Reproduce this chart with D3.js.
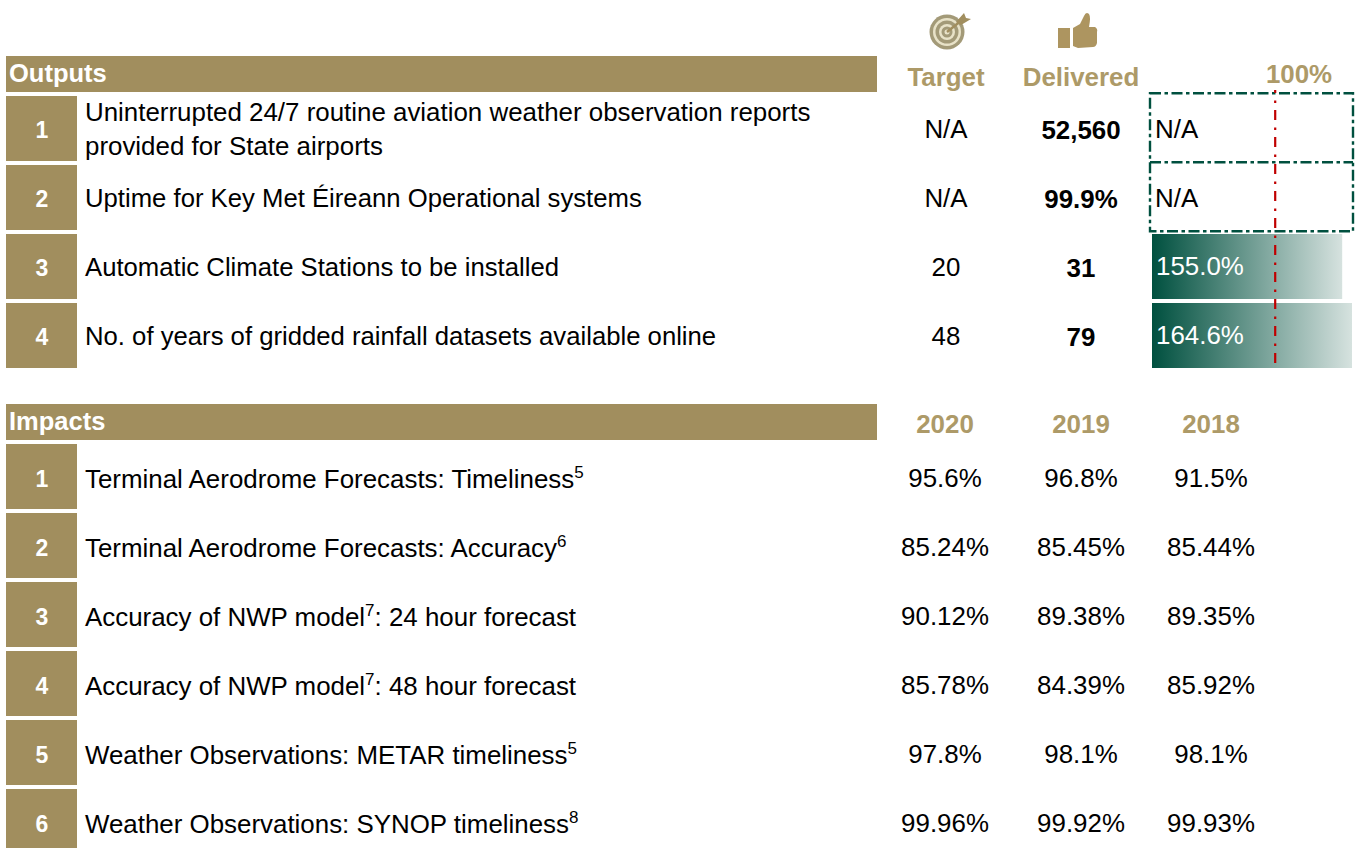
<!DOCTYPE html>
<html>
<head>
<meta charset="utf-8">
<script src="https://cdn.jsdelivr.net/npm/d3@7"></script>
<style>
  html, body { margin: 0; padding: 0; background: #fff; }
  svg { display: block; }
  text { font-family: "Liberation Sans", Arial, sans-serif; }
</style>
</head>
<body>
<svg id="chart" width="1363" height="848"></svg>
<script>
// outputs table
const outputLabels = [
  ['Uninterrupted 24/7 routine aviation weather observation reports', 'provided for State airports'],
  ['Uptime for Key Met Éireann Operational systems'],
  ['Automatic Climate Stations to be installed'],
  ['No. of years of gridded rainfall datasets available online']
];
const outputTargets = ['N/A', 'N/A', '20', '48'];
const outputDelivered = ['52,560', '99.9%', '31', '79'];
const outputPercent = [null, null, 155.0, 164.6];

// impacts table
const impactLabels = [
  ['Terminal Aerodrome Forecasts: Timeliness', '5', ''],
  ['Terminal Aerodrome Forecasts: Accuracy', '6', ''],
  ['Accuracy of NWP model', '7', ': 24 hour forecast'],
  ['Accuracy of NWP model', '7', ': 48 hour forecast'],
  ['Weather Observations: METAR timeliness', '5', ''],
  ['Weather Observations: SYNOP timeliness', '8', '']
];
const impactYears = ['2020', '2019', '2018'];
const impacts2020 = ['95.6%', '85.24%', '90.12%', '85.78%', '97.8%', '99.96%'];
const impacts2019 = ['96.8%', '85.45%', '89.38%', '84.39%', '98.1%', '99.92%'];
const impacts2018 = ['91.5%', '85.44%', '89.35%', '85.92%', '98.1%', '99.93%'];

const gold = '#a18e5e';
const goldText = '#ad9a68';
const green = '#00503f';
const fontSize = 25.9;

const svg = d3.select('#chart');

const defs = svg.append('defs');
const grad = defs.append('linearGradient').attr('id', 'barFade');
grad.append('stop').attr('offset', '0%').attr('stop-color', green);
grad.append('stop').attr('offset', '100%').attr('stop-color', '#d6e2df');
defs.append('filter').attr('id', 'soft')
  .append('feGaussianBlur').attr('stdDeviation', 0.6);

// row positions, one band per table row
const outY = d3.scaleBand().domain(d3.range(4)).range([96, 96 + 69 * 4 - 4]).paddingInner(4 / 69);
const impY = d3.scaleBand().domain(d3.range(6)).range([444, 444 + 69 * 6 - 4]).paddingInner(4 / 69);
const pctX = d3.scaleLinear().domain([0, 163]).range([1152, 1352]).clamp(true);

const colX = { target: 946, delivered: 1081 };
const yearX = d3.scaleOrdinal().domain(impactYears).range([945, 1081, 1211]);

function header(y, label) {
  svg.append('rect').attr('x', 6).attr('y', y).attr('width', 871).attr('height', 36).attr('fill', gold);
  svg.append('text').attr('x', 9).attr('y', y + 26)
    .attr('fill', '#fff').attr('font-weight', 'bold').attr('font-size', 25.5).text(label);
}

function numberBoxes(scale, n, shift) {
  const g = svg.append('g');
  g.selectAll('rect').data(d3.range(n)).enter().append('rect')
    .attr('x', 6).attr('y', d => scale(d))
    .attr('width', 71).attr('height', scale.bandwidth()).attr('fill', gold);
  g.selectAll('text').data(d3.range(n)).enter().append('text')
    .attr('x', 42).attr('y', d => scale(d) + scale.bandwidth() / 2 + 9 + shift)
    .attr('text-anchor', 'middle').attr('fill', '#fff')
    .attr('font-weight', 'bold').attr('font-size', 23).text(d => d + 1);
}

function valueCol(x, scale, values, bold, shift) {
  svg.append('g').selectAll('text').data(values).enter().append('text')
    .attr('x', x).attr('y', (d, i) => scale(i) + scale.bandwidth() / 2 + 8.5 + shift)
    .attr('text-anchor', 'middle').attr('font-size', fontSize)
    .attr('font-weight', bold ? 'bold' : 'normal').attr('fill', '#000').text(d => d);
}

// outputs
header(56, 'Outputs');
numberBoxes(outY, 4, 0);

// single line rows run a touch narrower in the reference
const outText = svg.append('g').selectAll('text').data(outputLabels).enter().append('text')
  .attr('font-size', d => d.length > 1 ? fontSize : 25.7).attr('fill', '#000');
outText.selectAll('tspan').data((d, i) => d.map((line, k) => ({ line, k, i, n: d.length }))).enter().append('tspan')
  .attr('x', 85)
  .attr('y', d => outY(d.i) + outY.bandwidth() / 2 + 9 + (d.n > 1 ? (d.k - 0.5) * 34 : 0))
  .text(d => d.line);

valueCol(colX.target, outY, outputTargets, false, 1);
valueCol(colX.delivered, outY, outputDelivered, true, 2);

// header captions
svg.selectAll('.cap').data([['Target', colX.target, 86], ['Delivered', colX.delivered, 86], ['100%', 1299, 83]]).enter().append('text')
  .attr('x', d => d[1]).attr('y', d => d[2]).attr('text-anchor', 'middle')
  .attr('font-weight', 'bold').attr('font-size', fontSize).attr('fill', goldText).text(d => d[0]);

// percent bars
const barRows = outputPercent.map((v, i) => ({ v, i }));
const barG = svg.append('g');
barG.selectAll('rect').data(barRows.filter(d => d.v !== null)).enter().append('rect')
  .attr('x', pctX(0)).attr('y', d => outY(d.i))
  .attr('width', d => pctX(d.v) - pctX(0)).attr('height', outY.bandwidth())
  .attr('fill', 'url(#barFade)');
barG.selectAll('text').data(barRows.filter(d => d.v !== null)).enter().append('text')
  .attr('x', pctX(0) + 4).attr('y', d => outY(d.i) + outY.bandwidth() / 2 + 8.5)
  .attr('fill', '#fff').attr('font-size', fontSize).text(d => d.v.toFixed(1) + '%');

// N/A rows share one dashed frame, with a divider between them so the dashes do not pile up
const naRows = barRows.filter(d => d.v === null);
const boxDash = '11 3.5 3.5 3.5';
barG.append('rect')
  .attr('x', 1150).attr('y', outY(naRows[0].i) - 2.7)
  .attr('width', 203).attr('height', outY(naRows[naRows.length - 1].i) - outY(naRows[0].i) + outY.bandwidth() + 4)
  .attr('fill', 'none').attr('stroke', green).attr('stroke-width', 2.4).attr('stroke-dasharray', boxDash);
barG.selectAll('.divider').data(naRows.slice(1)).enter().append('line')
  .attr('x1', 1150).attr('x2', 1353)
  .attr('y1', d => outY(d.i) - 2.7).attr('y2', d => outY(d.i) - 2.7)
  .attr('stroke', green).attr('stroke-width', 2.4).attr('stroke-dasharray', boxDash);
barG.selectAll('.natext').data(naRows).enter().append('text')
  .attr('x', pctX(0) + 3).attr('y', d => outY(d.i) + outY.bandwidth() / 2 + 9.5)
  .attr('font-size', fontSize).attr('fill', '#000').text('N/A');

// 100% line
svg.append('line').attr('x1', pctX(100) + 0.5).attr('x2', pctX(100) + 0.5).attr('y1', 90).attr('y2', 368)
  .attr('stroke', '#c00000').attr('stroke-width', 2.2)
  .attr('stroke-dasharray', '10 7.5 2.5 7').attr('stroke-dashoffset', 7);

// impacts
header(404, 'Impacts');
numberBoxes(impY, 6, 1);

svg.selectAll('.year').data(impactYears).enter().append('text')
  .attr('x', d => yearX(d)).attr('y', 433).attr('text-anchor', 'middle')
  .attr('font-weight', 'bold').attr('font-size', fontSize).attr('fill', goldText).text(d => d);

const impText = svg.append('g').selectAll('text').data(impactLabels).enter().append('text')
  .attr('x', 85).attr('y', (d, i) => impY(i) + impY.bandwidth() / 2 + 11)
  .attr('font-size', fontSize).attr('fill', '#000');
impText.append('tspan').text(d => d[0]);
impText.append('tspan').attr('dy', -10).attr('font-size', 17).text(d => d[1]);
impText.filter(d => d[2]).append('tspan').attr('dy', 10).text(d => d[2]);

valueCol(yearX('2020'), impY, impacts2020, false, 2);
valueCol(yearX('2019'), impY, impacts2019, false, 2);
valueCol(yearX('2018'), impY, impacts2018, false, 2);

// target icon
const icon = svg.append('g').attr('filter', 'url(#soft)');
const tg = icon.append('g').attr('transform', 'translate(947,32)');
[[17.5, '#a39a78'], [14, '#e8e2c8'], [11.5, '#a39a78'], [8, '#e8e2c8'], [5.5, '#a39a78'], [2.5, '#e8e2c8']].forEach(c => {
  tg.append('circle').attr('r', c[0]).attr('fill', c[1]);
});
tg.append('path').attr('d', 'M0,0L15,-12').attr('stroke', '#a18e5e').attr('stroke-width', 2.5);
tg.append('path').attr('d', 'M9,-10L17,-19L19,-14L24,-13L14,-7Z').attr('fill', '#a18e5e');

// thumb icon
const th = icon.append('g').attr('transform', 'translate(1058,14)').attr('fill', '#ad9560');
th.append('rect').attr('x', 0).attr('y', 14).attr('width', 12).attr('height', 20);
th.append('path').attr('d', 'M15,14L22,10L26,2Q28,-3 31,0Q33,3 31,13L37,13Q40,15 39,18L39,29Q38,33 35,33L20,34L15,32Z');
</script>
</body>
</html>
